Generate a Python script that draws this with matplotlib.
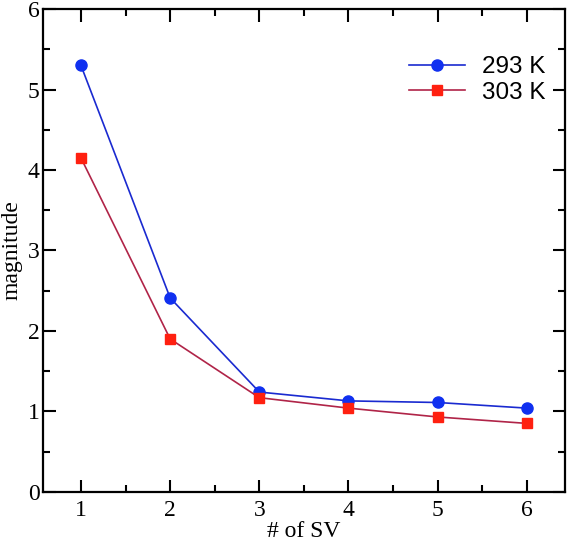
import matplotlib
matplotlib.use('Agg')
import matplotlib.pyplot as plt
from matplotlib.ticker import MultipleLocator

n_sv = [1, 2, 3, 4, 5, 6]
mag_293 = [5.30, 2.41, 1.24, 1.13, 1.11, 1.04]
mag_303 = [4.15, 1.90, 1.17, 1.04, 0.93, 0.85]

fig = plt.figure(figsize=(5.67, 5.41), dpi=100)
ax = fig.add_axes([0.076, 0.091, 0.92, 0.892])

ax.plot(n_sv, mag_293, color='#1a2ad0', lw=1.2, marker='o', ms=8,
        mfc='#1030f0', mec='#1030f0', label='293 K')
ax.plot(n_sv, mag_303, color='#b02448', lw=1.2, marker='s', ms=7.5,
        mfc='#ff2010', mec='#ff2010', label='303 K')

ax.set_xlim(0.575, 6.425)
ax.set_ylim(0, 6)
ax.xaxis.set_major_locator(MultipleLocator(1))
ax.xaxis.set_minor_locator(MultipleLocator(0.5))
ax.yaxis.set_major_locator(MultipleLocator(1))
ax.yaxis.set_minor_locator(MultipleLocator(0.5))
ax.tick_params(which='both', direction='in', top=True, right=True, width=1.5)
ax.tick_params(which='major', length=9)
ax.tick_params(which='minor', length=5)
for s in ax.spines.values():
    s.set_linewidth(1.6)

for lab in ax.get_xticklabels() + ax.get_yticklabels():
    lab.set_family('Liberation Serif')
    lab.set_fontsize(17)
ax.tick_params(axis='x', pad=6)
ax.tick_params(axis='y', pad=2.5)

ax.set_xlabel('# of SV', family='Liberation Serif', fontsize=17, labelpad=0)
ax.set_ylabel('magnitude', family='Liberation Serif', fontsize=17, labelpad=4)

leg = ax.legend(loc='upper left', frameon=False,
                prop={'family': 'Liberation Sans', 'size': 17.5},
                handlelength=2.3, handletextpad=0.7, borderpad=0, borderaxespad=0,
                bbox_to_anchor=(0.702, 0.903), labelspacing=0.16)

fig.savefig('out.png', dpi=100)
